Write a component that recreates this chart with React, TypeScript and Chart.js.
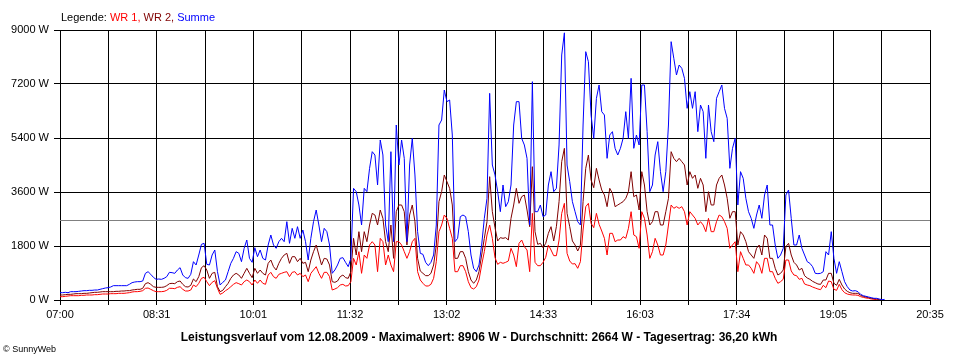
import React, { useEffect, useRef } from "react";
import { Chart, registerables } from "chart.js";

Chart.register(...registerables);

// ---- data: samples every 2.5 minutes starting 07:00 (minutes since midnight) ----
const START_MIN = 420; // 07:00
const END_MIN = 1235; // 20:35
const STEP_MIN = 2.5;

const xTickLabels = ["07:00", "08:31", "10:01", "11:32", "13:02", "14:33", "16:03", "17:34", "19:05", "20:35"];
const yTickValues = [0, 1800, 3600, 5400, 7200, 9000];

const wr1: (number | null)[] = [
  111, 111, 122, 133, 144, 144, 144, 144, 156, 156, 167, 167, 167, 178, 178, 189, 200, 200, 200, 211,
  211, 211, 222, 222, 222, 233, 244, 267, 278, 278, 289, 311, 389, 400, 356, 311, 278, 278, 278, 289,
  322, 389, 389, 378, 422, 444, 356, 300, 300, 333, 500, 444, 556, 722, 756,
  611, 478, 589, 644, 389, 189, 233, 311, 367, 444, 522, 578, 544, 500, 611, 667, 611, 500, 667, 556,
  667, 556, 522, 833, 922, 778, 722, 856, 889, 922, 944, 778, 922, 944, 833, 889, 778, 833, 611, 889,
  1000, 1111, 889, 722, 922, 922, 778, 333, 367, 411, 500, 522, 467, 478,
  611, 1389, 1167, 1611, 889, 1500, 1389, 1833, 1944, 1833, 944, 2056, 1944, 1167, 1500, 1167, 944, 1944, 1944, 1833,
  1611, 1389, 1611, 1944, 2056, 944, 667, 556, 467, 467, 522, 722, 1278, 2278, 2500, 2833, 2722, 2389, 2056, 944,
  944, 1144, 1144, 944, 611, 411, 367, 444, 667, 1167, 1611, 2167, 2500, 2056,
  1411, 1189, 1256, 1222, 1256, 1300, 1722, 1500, 1111, 1889, 2000, 1778, 1667, 944, 2889, 1256, 1144, 1144, 1256, 1422,
  1833, 1667, 1478, 1478, 2000, 2889, 3222, 1556, 1300, 1200, 1211, 1056, 1278, 2333, 3111, 3222, 2556, 2411, 2889, 2522,
  2300, 2056, 1500, 2222, 2222, 1944, 2000, 2000, 2111, 2056, 2389, 2944, 2167, 2111, 1722,
  2944, 2722, 2167, 1389, 1611, 2056, 1833, 1500, 1500, 1833, 2500, 3167, 3056, 3111, 3056, 3111, 2944, 2500, 2944, 2833,
  2722, 2500, 2611, 2500, 2278, 2722, 2278, 2278, 2611, 2833, 2778, 2611, 2389, 1722, 1833, 1944, 944, 1611, 1389, 1167,
  1167, 1056, 889, 1278, 1167, 889, 1389, 1389, 944, 944, 722, 556, 611, 689,
  1333, 1333, 967, 833, 811, 689, 722, 533, 500, 478, 433, 400, 367, 344, 489, 411, 633, 611, 356, 322,
  522, 344, 244, 200, 178, 167, 167, 156, 111, 89, 67, 56, 33, 22, 11, 0, 0, null,
];

const wr2: (number | null)[] = [
  167, 167, 178, 189, 189, 200, 211, 211, 211, 222, 222, 233, 244, 256, 256, 267, 278, 278, 278, 278,
  278, 289, 289, 300, 300, 311, 311, 333, 344, 356, 356, 389, 544, 578, 522, 444, 422, 422, 422, 433,
  478, 544, 556, 544, 611, 633, 522, 444, 433, 489, 700, 611, 778, 1078, 1144,
  1000, 722, 889, 922, 444, 278, 322, 444, 556, 722, 833, 889, 833, 722, 889, 1056, 889, 744, 1056, 889,
  1000, 889, 833, 1222, 1333, 1111, 1000, 1222, 1389, 1500, 1556, 1222, 1444, 1444, 1278, 1389, 1222, 1256, 944, 1333,
  1611, 1833, 1500, 1167, 1389, 1367, 1167, 611, 589, 633, 778, 833, 744, 722,
  944, 2056, 1500, 2278, 1611, 2278, 1944, 2500, 2889, 2833, 2500, 3000, 2722, 1944, 1611, 2500, 1389, 2944, 3167, 3167,
  2944, 1833, 2833, 3167, 2611, 1389, 967, 889, 811, 811, 889, 1167, 1833, 3278, 3611, 4167, 3944, 3722, 3167, 1389,
  1389, 1611, 1611, 1389, 944, 667, 556, 667, 944, 1500, 2056, 2611, 4111, 2944,
  2411, 1967, 2078, 2056, 2078, 2000, 2722, 3167, 3722, 3222, 3444, 3500, 3000, 2444, 4444, 2278, 1856, 1889, 1744, 1889,
  2222, 2444, 1967, 2444, 3278, 4611, 5056, 2889, 2444, 1967, 1833, 1633, 1833, 3278, 4389, 4833, 4000, 3744, 4389, 4000,
  3667, 3500, 3111, 3722, 3556, 3111, 3167, 3222, 3278, 3389, 3611, 4278, 3444, 3500, 3000,
  4278, 3833, 2944, 2500, 2611, 2944, 2944, 2500, 2500, 2944, 3389, 4944, 4722, 4611, 4722, 4611, 4500, 3833, 4278, 4056,
  4167, 3722, 4056, 3833, 2944, 3611, 3167, 3167, 3833, 4056, 4167, 3833, 3389, 2722, 2944, 2944, 1833, 2278, 2167, 1944,
  1611, 1500, 1389, 1722, 1833, 1500, 2167, 2056, 1389, 1389, 1056, 833, 889, 1000,
  1778, 1889, 1500, 1256, 1167, 1000, 1056, 811, 733, 689, 622, 578, 533, 522, 667, 667, 889, 889, 556, 489,
  689, 500, 367, 289, 244, 222, 222, 222, 156, 122, 100, 78, 56, 44, 33, 11, 0, null,
];

const summe: (number | null)[] = [
  244, 244, 256, 244, 278, 278, 278, 289, 300, 311, 311, 322, 322, 333, 333, 356, 378, 400, 411, 433,
  478, 478, 478, 478, 478, 478, 522, 578, 600, 611, 611, 633, 889, 944, 856, 756, 689, 700, 689, 722,
  778, 922, 911, 889, 1000, 1078, 833, 744, 722, 856, 1278, 1167, 1500, 1856, 1889,
  1189, 1167, 1500, 1667, 944, 500, 589, 667, 944, 1222, 1389, 1611, 1556, 1278, 1722, 2000, 1389, 1256, 1744, 1444,
  1667, 1389, 1333, 1833, 2167, 1833, 1722, 1944, 2056, 1944, 2611, 1889, 2389, 2056, 2444, 2056, 2333, 1944, 1333, 2056,
  2611, 3000, 2500, 1944, 2389, 2278, 1833, 889, 1000, 1167, 1389, 1411, 1256, 1111,
  1389, 3722, 3611, 3167, 2500, 3722, 3611, 4389, 4944, 4833, 3833, 5333, 4833, 2500, 1944, 4944, 1944, 5833, 4500, 5333,
  4722, 1944, 4500, 5389, 4167, 2278, 1556, 1522, 1256, 1144, 1256, 1500, 2500, 5833, 6000, 7000, 6611, 6667, 5500, 1944,
  2056, 2778, 2833, 2778, 2278, 1500, 1056, 944, 1167, 1833, 2722, 3389, 6889, 4500,
  4167, 3611, 2944, 3833, 3111, 3278, 3833, 5833, 6611, 6611, 5389, 5167, 4722, 2500, 7278, 2944, 2944, 3167, 2778, 2833,
  3833, 4278, 3611, 3722, 5167, 8167, 8906, 4500, 3944, 3278, 2944, 2611, 2500, 5833, 8278, 7944, 6167, 5389, 6722, 7167,
  6278, 6167, 4722, 5500, 5611, 5056, 4833, 5056, 5389, 6278, 5389, 7389, 5056, 5500, 5167,
  7167, 7167, 5611, 3611, 3833, 4833, 5278, 4278, 3611, 4278, 5833, 8611, 8056, 7500, 7833, 7722, 7389, 6389, 6944, 6389,
  6944, 5611, 6500, 6278, 4722, 6500, 5611, 5278, 6722, 6944, 7167, 6389, 6056, 4389, 5056, 5389, 3167, 4278, 4056, 3389,
  2944, 2722, 2389, 2833, 3167, 2722, 3500, 3833, 2500, 2500, 1833, 1389, 1500, 1722,
  3500, 3667, 2722, 1833, 1833, 2167, 1722, 1500, 1278, 1222, 1111, 889, 878, 889, 944, 1611, 1500, 2278, 1389, 889,
  1278, 944, 611, 444, 333, 300, 311, 278, 189, 144, 122, 100, 78, 56, 56, 33, 10, 20,
];

const AVERAGE_W = 2664;
const LEGEND_PARTS = [
  { text: "Legende: ", color: "#000000" },
  { text: "WR 1, ", color: "#ff0000" },
  { text: "WR 2, ", color: "#800000" },
  { text: "Summe", color: "#0000ff" },
];
const TITLE =
  "Leistungsverlauf vom 12.08.2009 - Maximalwert: 8906 W - Durchschnitt: 2664 W - Tagesertrag: 36,20 kWh";
const COPYRIGHT = "\u00A9 SunnyWeb";

const FONT = "'Liberation Sans', Arial, sans-serif";

const toPoints = (arr: (number | null)[]) => arr.map((v, i) => ({ x: START_MIN + i * STEP_MIN, y: v }));

export default function App() {
  const canvasRef = useRef<HTMLCanvasElement | null>(null);

  useEffect(() => {
    document.body.style.margin = "0";
    const canvas = canvasRef.current;
    if (!canvas) return;

    const decorPlugin = {
      id: "decor",
      beforeDatasetsDraw(chart: any) {
        const { ctx, chartArea, scales } = chart;
        const y = Math.round(scales.y.getPixelForValue(AVERAGE_W)) + 0.5;
        ctx.save();
        ctx.strokeStyle = "#808080";
        ctx.lineWidth = 1;
        ctx.beginPath();
        ctx.moveTo(chartArea.left, y);
        ctx.lineTo(chartArea.right, y);
        ctx.stroke();
        ctx.restore();
      },
      afterDraw(chart: any) {
        const { ctx } = chart;
        ctx.save();
        ctx.textBaseline = "alphabetic";
        ctx.font = `11px ${FONT}`;
        let x = 61;
        for (const p of LEGEND_PARTS) {
          ctx.fillStyle = p.color;
          ctx.fillText(p.text, x, 21);
          x += ctx.measureText(p.text).width;
        }
        ctx.fillStyle = "#000";
        ctx.font = `bold 12px ${FONT}`;
        ctx.textAlign = "center";
        ctx.fillText(TITLE, 479, 341);
        ctx.textAlign = "left";
        ctx.font = `9px ${FONT}`;
        ctx.fillText(COPYRIGHT, 3, 352);
        ctx.restore();
      },
    };

    const common = {
      borderWidth: 1,
      pointRadius: 0,
      tension: 0,
      fill: false,
      spanGaps: false,
    };

    const chart = new Chart(canvas, {
      type: "line",
      data: {
        datasets: [
          { ...common, label: "Summe", data: toPoints(summe), borderColor: "#0000ff" },
          { ...common, label: "WR 2", data: toPoints(wr2), borderColor: "#800000" },
          { ...common, label: "WR 1", data: toPoints(wr1), borderColor: "#ff0000" },
        ],
      },
      options: {
        animation: false,
        responsive: false,
        maintainAspectRatio: false,
        layout: { padding: { top: 30, right: 30, left: 0, bottom: 0 } },
        plugins: { legend: { display: false }, tooltip: { enabled: false }, title: { display: false } },
        scales: {
          x: {
            type: "linear",
            min: START_MIN,
            max: END_MIN,
            afterFit: (s: any) => {
              s.height = 60;
            },
            afterBuildTicks: (s: any) => {
              const n = (xTickLabels.length - 1) * 2;
              s.ticks = Array.from({ length: n + 1 }, (_, k) => ({
                value: START_MIN + (k * (END_MIN - START_MIN)) / n,
              }));
            },
            grid: { color: "#000", lineWidth: 1, tickLength: 5, tickColor: "#000", drawTicks: true },
            border: { display: true, color: "#000", width: 1 },
            ticks: {
              autoSkip: false,
              maxRotation: 0,
              minRotation: 0,
              padding: 3,
              color: "#000",
              font: { family: FONT, size: 11 },
              callback: (_v: any, index: number) => (index % 2 === 0 ? xTickLabels[index / 2] : ""),
            },
          },
          y: {
            min: 0,
            max: 9000,
            afterFit: (s: any) => {
              s.width = 60;
            },
            afterBuildTicks: (s: any) => {
              s.ticks = yTickValues.map((v) => ({ value: v }));
            },
            grid: { color: "#000", lineWidth: 1, tickLength: 6, tickColor: "#000", drawTicks: true },
            border: { display: true, color: "#000", width: 1 },
            ticks: {
              padding: 5,
              color: "#000",
              font: { family: FONT, size: 11 },
              callback: (v: any) => `${v} W`,
            },
          },
        },
      },
      plugins: [decorPlugin],
    } as any);

    return () => chart.destroy();
  }, []);

  return (
    <div style={{ width: 960, height: 360, background: "#fff" }}>
      <canvas ref={canvasRef} width={960} height={360} style={{ display: "block" }} />
    </div>
  );
}
